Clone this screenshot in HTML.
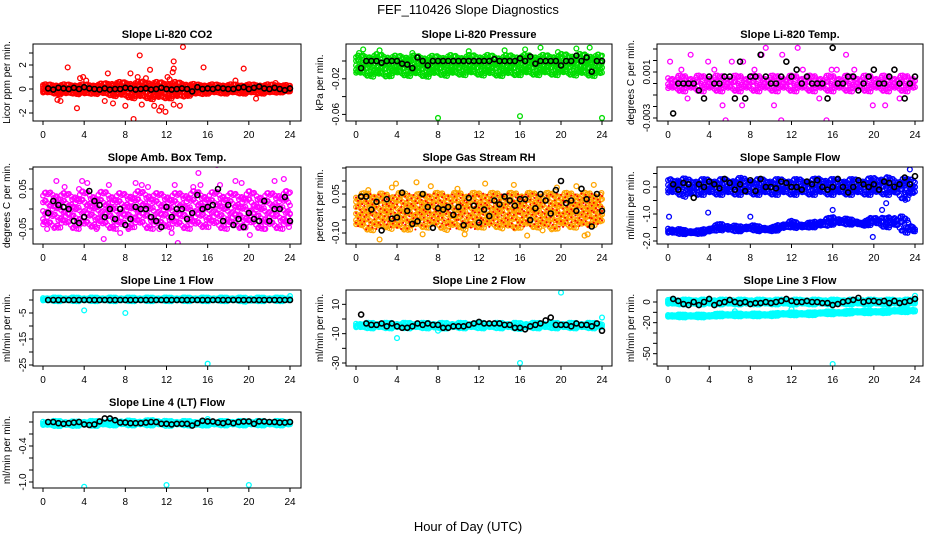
<!DOCTYPE html>
<html><head><meta charset="utf-8"><style>
body{margin:0;background:#fff}
svg{display:block;font-family:"Liberation Sans",sans-serif}
</style></head><body>
<svg id="c" width="936" height="540" viewBox="0 0 936 540">
<text x="468" y="14" text-anchor="middle" font-size="13">FEF_110426  Slope Diagnostics</text>
<text x="468" y="531" text-anchor="middle" font-size="13">Hour of Day (UTC)</text>
</svg>
<script>
// ---- data ----
const hourTicks=[0,4,8,12,16,20,24];
const titles=["Slope Li-820 CO2","Slope Li-820 Pressure","Slope Li-820 Temp.","Slope Amb. Box Temp.","Slope Gas Stream RH","Slope Sample Flow","Slope Line 1 Flow","Slope Line 2 Flow","Slope Line 3 Flow","Slope Line 4 (LT) Flow"];
const yTitles=["Licor ppm per min.","kPa per min.","degrees C per min.","degrees C per min.","percent per min.","ml/min per min.","ml/min per min.","ml/min per min.","ml/min per min.","ml/min per min."];
const yTicks=[[-2,-1,0,1,2,3],[0,-0.02,-0.04,-0.06],[0.003,0.002,0.001,0,-0.001,-0.002,-0.003],[0.1,0.05,0,-0.05],[0.15,0.1,0.05,0,-0.05,-0.1],[0.5,0,-0.5,-1,-1.5,-2],[0,-5,-10,-15,-20,-25],[10,0,-10,-20,-30],[0,-10,-20,-30,-40,-50,-60],[0,-0.2,-0.4,-0.6,-0.8,-1.0]];
const yTickLabels=[["-2","0","2"],["-0.06","-0.02"],["0.001","-0.003"],["0.05","-0.05"],["0.05","-0.10"],["0.0","-1.0","-2.0"],["-5","-15","-25"],["10","-10","-30"],["0","-20","-50"],["-0.4","-1.0"]];
const yTickLabelVals=[[-2,0,2],[-0.06,-0.02],[0.001,-0.003],[0.05,-0.05],[0.05,-0.1],[0,-1,-2],[-5,-15,-25],[10,-10,-30],[0,-20,-50],[-0.4,-1.0]];
const colors=["#ff0000","#00dd00","#ff00ff","#ff00ff","#ffa500","#0000ff","#00ffff","#00ffff","#00ffff","#00ffff"];

// band low / high per hour (0..24)
const bandLo=[
[-0.4,-0.4,-0.5,-0.4,-0.5,-0.4,-0.5,-0.6,-0.7,-0.8,-0.8,-0.9,-0.8,-0.8,-0.6,-0.5,-0.4,-0.4,-0.4,-0.4,-0.4,-0.4,-0.4,-0.3,-0.3],
[-0.016,-0.017,-0.018,-0.018,-0.016,-0.017,-0.017,-0.018,-0.016,-0.017,-0.016,-0.016,-0.016,-0.017,-0.017,-0.017,-0.016,-0.016,-0.016,-0.016,-0.016,-0.016,-0.017,-0.017,-0.017],
[-0.0007,-0.0007,-0.0007,-0.0007,-0.0007,-0.0007,-0.0007,-0.0007,-0.0007,-0.0007,-0.0007,-0.0007,-0.0007,-0.0007,-0.0007,-0.0007,-0.0007,-0.0007,-0.0007,-0.0007,-0.0007,-0.0007,-0.0007,-0.0007,-0.0007],
[-0.05,-0.05,-0.045,-0.05,-0.05,-0.045,-0.05,-0.05,-0.05,-0.045,-0.05,-0.05,-0.045,-0.05,-0.05,-0.05,-0.045,-0.05,-0.05,-0.05,-0.045,-0.05,-0.05,-0.05,-0.05],
[-0.08,-0.09,-0.09,-0.08,-0.09,-0.09,-0.08,-0.08,-0.08,-0.09,-0.08,-0.09,-0.08,-0.08,-0.08,-0.09,-0.08,-0.08,-0.08,-0.09,-0.08,-0.08,-0.08,-0.07,-0.07],
[-0.3,-0.3,-0.4,-0.3,-0.3,-0.3,-0.3,-0.3,-0.3,-0.3,-0.3,-0.3,-0.3,-0.3,-0.3,-0.3,-0.3,-0.3,-0.3,-0.3,-0.3,-0.3,-0.3,-0.5,-0.3],
[-0.5,-0.5,-0.5,-0.5,-0.5,-0.5,-0.5,-0.5,-0.5,-0.5,-0.5,-0.5,-0.5,-0.5,-0.5,-0.5,-0.5,-0.5,-0.5,-0.5,-0.8,-0.5,-0.5,-0.5,-0.5],
[-6.5,-6.5,-6.5,-6.5,-6.5,-6.5,-6.5,-6.5,-7,-6.5,-6.5,-6.5,-6.5,-6.5,-6.5,-6.5,-7,-6.5,-6.5,-6.5,-6.5,-6.5,-6.5,-6.5,-6.5],
[-2.5,-2.5,-2.5,-2.5,-2.5,-2.5,-2.5,-2.5,-2.5,-2.5,-2.5,-2.5,-2.5,-2.5,-2.5,-2.5,-2.5,-2.5,-2.5,-2.5,-2.5,-2.5,-2.5,-2.5,-2.5],
[-0.07,-0.07,-0.07,-0.07,-0.06,-0.07,-0.06,-0.06,-0.06,-0.06,-0.06,-0.06,-0.07,-0.06,-0.06,-0.07,-0.06,-0.06,-0.06,-0.06,-0.06,-0.06,-0.06,-0.06,-0.06]];
const bandHi=[
[0.4,0.4,0.4,0.4,0.4,0.4,0.5,0.6,0.6,0.6,0.7,0.6,0.6,0.6,0.5,0.4,0.4,0.4,0.4,0.4,0.4,0.4,0.4,0.4,0.3],
[0.006,0.007,0.008,0.007,0.006,0.007,0.006,0.006,0.006,0.007,0.006,0.007,0.007,0.007,0.006,0.007,0.007,0.007,0.007,0.007,0.008,0.008,0.008,0.008,0.007],
[0.0007,0.0007,0.0007,0.0007,0.0007,0.0007,0.0007,0.0007,0.0007,0.0007,0.0007,0.0007,0.0007,0.0007,0.0007,0.0007,0.0007,0.0007,0.0007,0.0007,0.0007,0.0007,0.0007,0.0007,0.0007],
[0.04,0.045,0.04,0.04,0.045,0.04,0.045,0.04,0.04,0.045,0.045,0.04,0.04,0.04,0.045,0.045,0.04,0.045,0.04,0.04,0.045,0.04,0.04,0.045,0.045],
[0.05,0.055,0.055,0.05,0.055,0.055,0.05,0.055,0.055,0.055,0.055,0.055,0.055,0.055,0.055,0.055,0.055,0.055,0.055,0.055,0.055,0.055,0.055,0.055,0.055],
[0.3,0.35,0.3,0.3,0.3,0.3,0.3,0.35,0.3,0.3,0.3,0.3,0.3,0.3,0.3,0.35,0.3,0.3,0.3,0.3,0.35,0.4,0.3,0.3,0.3],
[1.0,1.0,1.0,1.0,1.0,1.0,1.0,1.0,1.0,1.0,1.0,1.0,1.0,1.0,1.0,1.0,1.0,1.0,1.0,1.0,1.0,1.0,1.0,1.0,1.0],
[-2.5,-2.5,-2.5,-2.5,-2.5,-2.5,-2.5,-2.5,-2.5,-2.5,-2.5,-2.5,-2.5,-2.5,-2.5,-2.5,-2.5,-2.5,-2.5,-2.5,-2.5,-2.5,-2.5,-2.5,-2.5],
[2.5,2.5,2.5,2.5,2.5,2.5,2.5,2.5,2.5,2.5,2.5,2.5,2.5,2.5,2.5,2.5,2.5,2.5,2.5,2.5,2.5,2.5,2.5,2.5,2.5],
[0.02,0.02,0.02,0.01,0.02,0.02,0.02,0.03,0.03,0.02,0.03,0.04,0.02,0.02,0.02,0.02,0.02,0.02,0.02,0.02,0.02,0.02,0.02,0.02,0.02]];
// secondary (lower) band for Sample Flow (5) and Line 3 Flow (8)
const band2Lo={5:[-1.75,-1.75,-1.75,-1.75,-1.7,-1.6,-1.65,-1.65,-1.6,-1.65,-1.65,-1.6,-1.5,-1.55,-1.5,-1.5,-1.4,-1.4,-1.4,-1.45,-1.4,-1.5,-1.5,-1.7,-1.7],8:[-15,-15,-15,-15,-15,-14,-14,-14,-14,-14,-14,-13,-13,-13,-13,-12,-12,-12,-11,-11,-11,-11,-10,-10,-10]};
const band2Hi={5:[-1.5,-1.55,-1.6,-1.6,-1.5,-1.35,-1.4,-1.45,-1.4,-1.45,-1.5,-1.35,-1.25,-1.35,-1.3,-1.2,-1.1,-1.15,-1.2,-1.3,-1.05,-1.15,-1.05,-1.1,-1.5],8:[-12,-12,-12,-12,-12,-11,-11,-11,-11,-11,-11,-10,-10,-10,-10,-9,-9,-9,-8,-8,-8,-8,-7,-7,-7]};

// outliers [hour, value]
const outX=[
[2.4,1.7,1.4,3.3,3.6,3.9,4.2,6.0,6.3,6.8,8.0,8.5,8.8,9.2,9.4,9.6,10.0,10.4,10.8,11.3,11.5,11.9,12.1,12.3,12.6,12.7,12.7,12.7,13.3,13.6,15.6,18.7,19.5,20.7,22.6],
[8,16,24,0.7,2.3,18,22.8,21.5,16.5,0.3,5.5,11,14.5,19.7],
[2.0,2.2,4.5,5.6,7.3,9.5,9.1,11.1,11.0,12.2,12.6,15.4,15.9,17.3,19.0,0.2,1.3,1.9,3.9,5.3,6.2,7.2,8.4,10.3,13.1,14.7,16.4,18.1,19.9,21.1,22.5],
[1.3,3.5,3.8,4.3,5.2,6.4,7.5,8.3,9.0,10.2,11.3,12.5,13.1,14.6,15.1,16.9,18.7,19.3,20.1,22.5,23.4,0.4,2.1,5.9,9.6,12.8,17.2,21.6,23.9,6.8,15.3],
[1.2,2.3,3.5,3.9,5.9,6.5,7.3,10.6,12.6,15.4,16.7,18.2,19.6,21.5,22.3,23.2,22.6,0.6,9.9],
[0.1,3.9,8.0,19.9,23.5,22.8,16.0,21.2,20.8],
[4,8,16,24],
[4,8,12,16,20,24],
[16,24,6.5,12],
[4,12,20,16]];
const outY=[
[1.8,-1.0,-0.9,-1.6,0.9,1.0,0.7,-1.0,1.3,-1.2,-1.4,1.3,-2.5,1.0,2.8,-1.3,0.9,1.6,-1.4,-1.8,-1.5,-1.9,1.0,0.8,1.4,1.7,2.3,-1.3,-1.4,3.5,1.8,0.7,1.7,-0.8,0.5],
[-0.064,-0.062,-0.064,0.013,0.012,0.015,0.015,0.014,0.013,0.009,0.009,0.011,0.012,0.01],
[-0.0045,0.0025,0.0012,-0.0032,0.0019,0.0031,0.0025,0.0025,-0.0032,-0.0045,0.0031,-0.0032,0.0012,0.0025,-0.0045,0.0019,0.0012,-0.0013,0.0019,-0.0019,0.0019,-0.0019,0.0012,-0.0019,0.0012,-0.0013,0.0012,0.0012,-0.0019,-0.0019,-0.0013],
[0.07,0.05,0.07,0.065,-0.05,0.06,-0.06,-0.05,0.065,0.055,-0.05,-0.06,-0.085,0.055,0.09,0.11,0.07,0.065,-0.065,0.07,0.075,-0.05,0.055,-0.075,0.06,0.06,0.06,-0.05,-0.045,-0.045,0.06],
[0.065,-0.125,0.075,0.09,0.095,-0.105,0.08,-0.105,0.09,0.085,-0.11,-0.09,0.075,0.08,-0.11,0.085,-0.105,-0.07,0.07],
[-1.1,-0.95,-1.1,-1.85,0.65,0.3,-0.85,-0.6,-0.85],
[-4,-5,-24.5,1.5],
[-13,-8,-2,-30,18,1],
[-60,6,-9,-7],
[-1.08,-1.05,-1.05,0.05]];
// half-hourly means (black), x = 0.5 .. 24
const means=[
[0.05,-0.05,0.1,0.05,0.0,0.1,0.0,0.15,0.05,0.0,-0.05,0.05,-0.05,0.0,0.0,0.1,0.05,-0.05,0.0,0.05,-0.05,0.0,0.1,0.0,-0.05,0.0,0.05,0.0,-0.2,0.15,0.0,0.05,0.0,0.1,0.05,0.0,0.0,0.1,0.15,0.0,0.1,0.2,0.05,0.0,0.1,0.0,-0.1,0.05],
[-0.008,0.0,0.0,0.0,-0.002,0.0,0.0,0.0,-0.003,-0.004,-0.008,0.004,0.0,-0.005,0.0,0.0,0.0,0.0,0.0,0.0,0.0,0.0,0.0,0.0,0.0,0.0,0.002,0.0,0.0,0.0,0.0,0.003,0.0,0.005,-0.003,0.0,0.0,0.0,0.0,-0.005,0.0,0.0,0.006,0.0,0.004,-0.012,0.0,0.0],
[-0.0026,0,0,0,0,-0.0006,-0.0013,0.0006,0,0,0.0006,0.0006,-0.0013,0.0019,-0.0013,0.0006,0.0006,0.0025,0.0006,0,0,0.0006,0.0019,0.0006,0.0012,0,0.0006,0,0,0,-0.0013,0.0031,0,0,0.0006,0.0006,-0.0006,0,0.0006,0.0012,0,0,0.0006,0.0012,0,-0.0013,0,0.0006],
[-0.01,0.02,0.01,0.005,0.0,-0.03,-0.035,-0.02,0.045,0.02,0.01,-0.02,0.0,-0.025,0.0,-0.04,-0.025,0.005,0.0,0.0,-0.02,-0.03,-0.045,0.005,-0.02,0.0,0.0,-0.025,-0.01,0.035,0.0,0.005,0.01,0.05,-0.03,0.01,-0.04,-0.025,-0.045,-0.01,-0.025,-0.03,0.02,-0.03,0.0,0.0,0.03,-0.03],
[0.04,0.04,-0.01,0.02,-0.09,0.03,-0.045,-0.04,0.055,-0.015,-0.065,-0.055,0.05,0.0,-0.08,-0.005,-0.01,0.0,-0.03,0.0,-0.07,0.035,0.005,-0.06,-0.01,-0.035,0.025,0.01,0.04,0.025,0.005,0.03,0.03,-0.05,-0.005,0.05,0.025,-0.025,0.065,0.1,0.015,0.025,-0.015,0.07,0.03,-0.075,0.05,-0.015],
[0.1,-0.1,0.15,0.1,-0.4,0.1,0.0,0.2,0.1,-0.05,0.3,0.15,-0.1,0.1,-0.15,0.25,-0.15,0.3,0.0,0.0,-0.05,0.2,0.15,0.0,0.0,-0.1,0.2,0.1,0.25,0.0,-0.1,0.0,0.3,0.0,-0.2,0.0,0.25,0.1,0.0,0.1,-0.1,0.2,0.15,0.0,0.1,0.35,0.1,0.4],
[0,0,0,0,0,0,0,0,0,0,0,0,0,0,0,0,0,0,0,0,0,0,0,0,0,0,0,0,0,0,0,0,0,0,0,0,0,0,0,0,0,0,0,0,0,0,0,0],
[3,-3,-4,-4,-3,-5,-3,-5,-6,-6,-5,-3,-4,-3,-4,-4,-6,-6,-5,-5,-5,-4,-3,-2,-3,-3,-3,-3,-4,-4,-6,-6,-7,-5,-4,-3,-1,1,-4,-4,-4,-5,-3,-4,-4,-5,-3,-8],
[3,1,-2,-3,0,-3,0,3,-3,-1,0,2,0,-1,0,-2,-1,-1,0,-1,0,1,3,1,0,0,1,0,0,-1,-1,-3,-2,0,1,2,4,0,1,1,0,1,-1,1,-1,0,1,3],
[0,0,-0.02,-0.03,-0.02,-0.01,0,-0.04,-0.05,-0.04,0.01,0.06,0.06,0.03,-0.01,-0.01,-0.02,-0.02,-0.02,-0.01,0,0,-0.03,-0.03,-0.04,-0.03,-0.03,-0.03,-0.06,-0.02,0.02,0.01,0.01,-0.01,-0.02,0,-0.02,0,0.01,0.01,-0.03,0.01,0.01,0.0,0.0,-0.01,-0.01,0]];

// ---- layout (not data) ----
const colBox=[[33,301],[346,612],[657,923]];
const colX=[[43,290],[356,602],[668,915]];
const rowBox=[[44,121],[167,244],[290,366],[412,488]];
const cal=[[0,89,2,65],[0,61,-0.02,78.8],[0,83.5,0.001,72],[0,209,0.05,189],[0,207,0.05,194],[0,187,-1,214],[0,300,-25,365],[0,319,-30,363],[0,302,-60,364],[0,422,-1,482]];
const bandLevels=[5,5,3,5,6,4,3,3,4,3];

const NS="http://www.w3.org/2000/svg";
const svg=document.getElementById('c');
function mk(tag,attrs,parent){const e=document.createElementNS(NS,tag);for(const k in attrs)e.setAttribute(k,attrs[k]);(parent||svg).appendChild(e);return e;}
const jitA=[0.1,-0.3,0.4,-0.1,0.25,-0.4,0.0,0.35,-0.2,0.15,-0.35,0.3];

for(let p=0;p<10;p++){
  const col=p%3,row=Math.floor(p/3);
  const [bl,br]=colBox[col],[bt,bb]=rowBox[row];
  const [x0,x24]=colX[col];
  const xs=h=>x0+(x24-x0)*h/24;
  const c=cal[p];
  const ys=v=>c[1]+(v-c[0])*(c[3]-c[1])/(c[2]-c[0]);
  const g=mk('g',{});
  
  
  const cid='clip'+p;
  const cp=mk('clipPath',{id:cid},g);mk('rect',{x:bl,y:bt,width:br-bl,height:bb-bt},cp);
  const t=mk('text',{x:(bl+br)/2,y:bt-6,'text-anchor':'middle','font-size':'11','font-weight':'bold'},g);t.textContent=titles[p];
  
  
  const yt=mk('text',{x:0,y:0,'text-anchor':'middle','font-size':'10',transform:`translate(${bl-23},${(bt+bb)/2}) rotate(-90)`},g);yt.textContent=yTitles[p];
  
  
  yTicks[p].forEach(v=>{const y=ys(v);mk('line',{x1:bl-4,x2:bl,y1:y,y2:y,stroke:'#000','stroke-width':1},g);});
  yTickLabelVals[p].forEach((v,i)=>{const y=ys(v);const tl=mk('text',{x:0,y:0,'text-anchor':'middle','font-size':'10',transform:`translate(${bl-7},${y}) rotate(-90)`},g);tl.textContent=yTickLabels[p][i];
    
    });
  hourTicks.forEach(h=>{const x=xs(h);mk('line',{x1:x,x2:x,y1:bb,y2:bb+4,stroke:'#000','stroke-width':1},g);
    const tl=mk('text',{x:x,y:bb+17,'text-anchor':'middle','font-size':'10'},g);tl.textContent=h;
    
    });
  const pg=mk('g',{'clip-path':`url(#${cid})`,fill:'none','stroke-width':1.3},g);
  const col1=colors[p];
  function band(lo,hi,color,L){
    for(let j=0;j<=160;j++){
      for(let k=0;k<L;k++){
        const h=Math.min(24,Math.max(0,j*0.15+jitA[(j+k*5)%12]*0.12));
        const i=Math.min(23,Math.floor(h));const f=h-i;
        const l=lo[i]+(lo[i+1]-lo[i])*f,u=hi[i]+(hi[i+1]-hi[i])*f;
        const v=l+(u-l)*Math.min(1,Math.max(0,(k+0.5+jitA[(j*7+k*3)%12]*1.3)/L));
        const e=mk('circle',{cx:xs(h),cy:ys(v),r:2.3,stroke:color},pg);
        
        }}
  }
  band(bandLo[p],bandHi[p],col1,bandLevels[p]);
  if(p===4){for(let j=0;j<=120;j++){const h=j/5;const i=Math.min(23,Math.floor(h));
      for(let k=0;k<4;k++){const v=bandLo[p][i]+(bandHi[p][i]-bandLo[p][i])*((k+0.5+jitA[(j+k*4)%12])/4);
        const e=mk('circle',{cx:xs(h),cy:ys(v),r:1,fill:'#ff0000',stroke:'none'},pg);
        
        }}}
  if(band2Lo[p]) band(band2Lo[p],band2Hi[p],col1,3);
  outX[p].forEach((h,i)=>{const e=mk('circle',{cx:xs(h),cy:ys(outY[p][i]),r:2.4,stroke:col1},pg);
    
    });
  means[p].forEach((v,i)=>{const e=mk('circle',{cx:xs((i+1)*0.5),cy:ys(v),r:2.5,stroke:'#000','stroke-width':1.6},pg);
    
    });
  const box=mk('rect',{x:bl,y:bt,width:br-bl,height:bb-bt,fill:'none',stroke:'#000','stroke-width':1},g);
  
  
}
</script>
</body></html>
